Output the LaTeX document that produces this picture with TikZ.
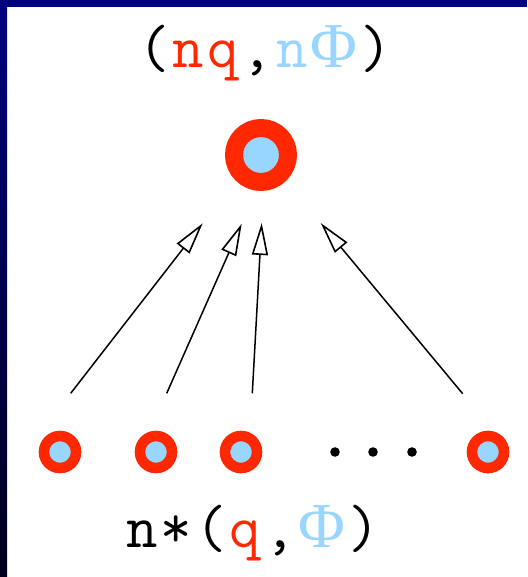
\documentclass[tikz,border=0pt]{standalone}
\usepackage{fontspec}
\newfontfamily\phifont{Liberation Serif}
\usetikzlibrary{arrows.meta}
\definecolor{ringred}{RGB}{255,40,0}
\definecolor{coreblue}{RGB}{153,214,255}
\definecolor{framenavy}{RGB}{0,0,128}
\definecolor{framedark}{RGB}{0,0,28}
\newcommand{\phisym}{{\phifont\fontsize{64}{64}\selectfont\char"03A6}}
\newcommand{\tsp}{\kern3pt}
\begin{document}
\begin{tikzpicture}[x=1pt, y=-1pt, font=\ttfamily\fontsize{61}{61}\selectfont,
    bigring/.style={circle, draw=ringred, fill=coreblue, line width=18pt, minimum size=54pt, inner sep=0pt},
    smallring/.style={circle, draw=ringred, fill=coreblue, line width=10.6pt, minimum size=32pt, inner sep=0pt},
    arr/.style={line width=1.5pt, -{Triangle[open, length=32pt, width=16pt, line width=1.6pt]}}]
  \useasboundingbox (0,0) rectangle (527,577);
  \fill[white] (0,0) rectangle (527,577);
  \fill[framenavy] (0,0) rectangle (527,7);
  \shade[top color=framenavy, bottom color=framedark] (0,7) rectangle (7,577);

  \node[anchor=base] (title) at (265,68) {(\tsp\textcolor{ringred}{n\tsp q}\tsp,\tsp\textcolor{coreblue}{n\tsp\phisym}\tsp)};
  \node[bigring] (whole) at (261,155) {};

  \foreach \x/\n in {60/a, 156/b, 241/c, 488/d}
    \node[smallring] (part\n) at (\x,452) {};
  \foreach \x in {335, 373, 412}
    \fill (\x,452) circle (4.8);

  \coordinate (fa) at (70.7,393.3);  \coordinate (ta) at (202.7,223.3);
  \coordinate (fb) at (166.7,393.3); \coordinate (tb) at (241.7,223.7);
  \coordinate (fc) at (252.3,393.3); \coordinate (tc) at (261.7,223);
  \coordinate (fd) at (462.7,393.7); \coordinate (td) at (320.7,223);
  \foreach \n in {a, b, c, d}
    \draw[arr] (f\n) -- (t\n);

  \node[anchor=base] (count) at (253,547) {n\tsp*\tsp(\tsp\textcolor{ringred}{q}\tsp,\tsp\textcolor{coreblue}{\phisym}\tsp)};
\end{tikzpicture}
\end{document}
